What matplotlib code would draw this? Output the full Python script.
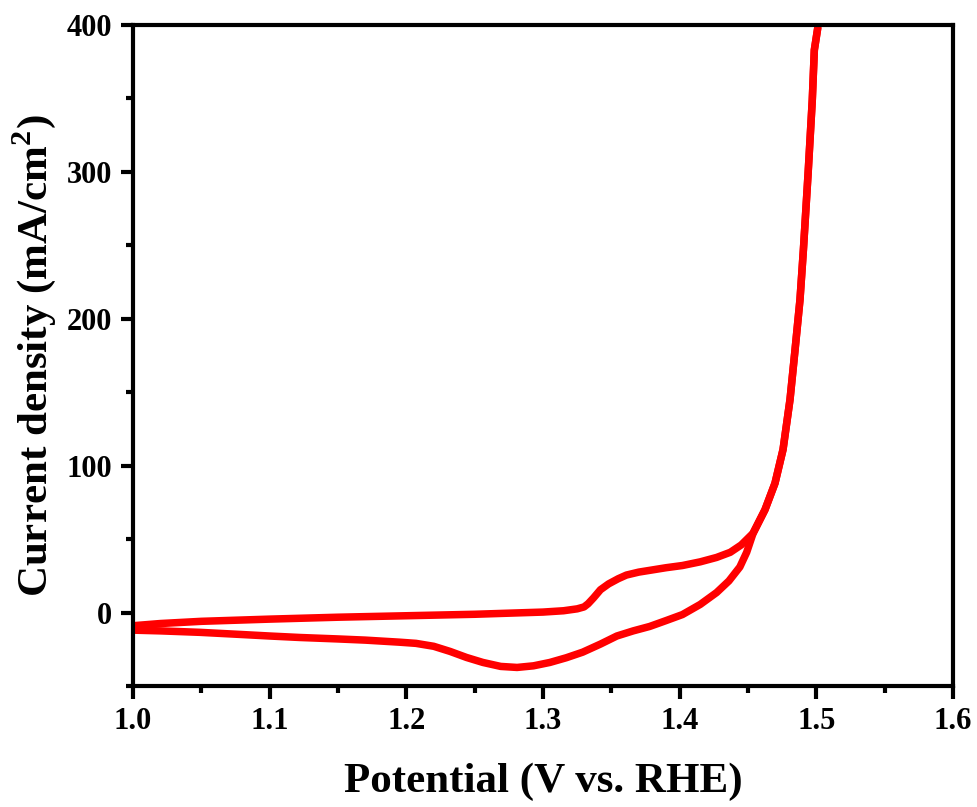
import numpy as np
import matplotlib
matplotlib.use('Agg')
import matplotlib.pyplot as plt
from matplotlib.ticker import MultipleLocator

plt.rcParams['font.family'] = ['Liberation Serif', 'DejaVu Serif']
plt.rcParams['font.weight'] = 'bold'
plt.rcParams['mathtext.fontset'] = 'custom'
plt.rcParams['mathtext.bf'] = 'Liberation Serif:bold'

# anodic scan (1.0 V -> 1.5 V)
fwd_v = [1.000, 1.020, 1.050, 1.100, 1.150, 1.200, 1.250, 1.300, 1.315, 1.325,
         1.330, 1.333, 1.337, 1.342, 1.348, 1.355, 1.361, 1.370, 1.380, 1.390,
         1.402, 1.415, 1.427, 1.437, 1.445, 1.4537, 1.4624, 1.4697, 1.4756, 1.4807,
         1.4844, 1.488, 1.4905, 1.494, 1.497, 1.4985, 1.501]
fwd_j = [-9.0, -7.5, -6.0, -4.5, -3.2, -2.2, -1.2, 0.3, 1.2, 2.5,
         3.8, 6.0, 10.0, 15.5, 19.5, 23.0, 25.5, 27.5, 29.0, 30.5,
         32.0, 34.5, 37.5, 41.0, 46.0, 54.0, 70.0, 88.0, 111.0, 145.0,
         179.0, 213.0, 247.0, 300.0, 349.0, 383.0, 398.0]

# cathodic scan (1.5 V -> 1.0 V)
rev_v = [1.501, 1.4985, 1.497, 1.494, 1.4905, 1.488, 1.4844, 1.4807, 1.4756, 1.4697,
         1.4624, 1.4537, 1.449, 1.444, 1.436, 1.427, 1.415, 1.402, 1.390, 1.378,
         1.366, 1.354, 1.342, 1.329, 1.317, 1.305, 1.293, 1.281, 1.269, 1.256,
         1.244, 1.232, 1.220, 1.207, 1.195, 1.170, 1.150, 1.122, 1.100, 1.080,
         1.049, 1.020, 1.000]
rev_j = [398.0, 383.0, 349.0, 300.0, 247.0, 213.0, 179.0, 145.0, 111.0, 88.0,
         70.0, 54.0, 41.0, 31.0, 21.5, 13.6, 5.5, -1.4, -5.5, -9.5,
         -12.5, -16.0, -21.5, -27.0, -30.8, -34.0, -36.3, -37.4, -36.7, -34.0,
         -30.6, -26.5, -23.0, -21.0, -20.2, -18.8, -18.0, -17.0, -16.0, -15.0,
         -13.5, -12.5, -12.0]

fig = plt.figure(figsize=(9.78, 8.07), dpi=100)
ax = fig.add_axes([0.136, 0.15, 0.8385, 0.819])

for v, j in [(fwd_v, fwd_j), (rev_v, rev_j)]:
    ax.plot(v, j, color='#ff0000', lw=5.4, solid_capstyle='round',
            solid_joinstyle='round')

ax.set_xlim(1.0, 1.6)
ax.set_ylim(-50, 400)
ax.xaxis.set_major_locator(MultipleLocator(0.1))
ax.xaxis.set_minor_locator(MultipleLocator(0.05))
ax.yaxis.set_major_locator(MultipleLocator(100))
ax.yaxis.set_minor_locator(MultipleLocator(50))

for s in ax.spines.values():
    s.set_linewidth(3)
ax.tick_params(which='major', direction='out', length=9, width=3,
               labelsize=22, pad=6)
ax.tick_params(which='minor', direction='out', length=5, width=3)
ax.tick_params(top=False, right=False, which='both')

ax.set_xlabel('Potential (V vs. RHE)', fontsize=31, fontweight='bold', labelpad=19)
ax.set_ylabel('Current density (mA/cm$^\\mathbf{2}$)', fontsize=31,
              fontweight='bold', labelpad=6)

fig.savefig('out.png', dpi=100)
